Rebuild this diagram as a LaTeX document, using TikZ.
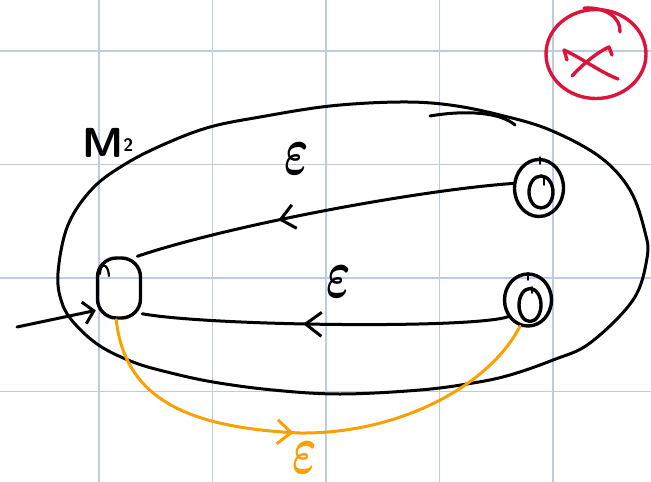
\RequirePackage{fix-cm}
\documentclass[tikz,border=0pt]{standalone}
\usepackage{tikz}
\usetikzlibrary{arrows.meta, positioning, shapes.geometric, decorations.markings}

\definecolor{gridblue}{RGB}{188,204,228}
\definecolor{inkred}{RGB}{220,20,60}
\definecolor{inkorange}{RGB}{250,160,0}
\newcommand{\heps}{\scalebox{0.85}[1.3]{\boldmath$\varepsilon$}}

\begin{document}
\begin{tikzpicture}[x=1pt, y=-1pt,
    ink/.style={line width=3pt, line cap=round, line join=round},
    gridline/.style={draw=gridblue, line width=1.2pt},
    startbox/.style={draw, ink, rectangle, rounded corners=19pt, minimum width=43pt, minimum height=60pt, inner sep=0pt, line width=3.4pt},
    ring/.style={draw, ink, ellipse, inner sep=0pt, line width=3.4pt},
    lbl/.style={font=\fontsize{54}{54}\selectfont, inner sep=0pt},
    midarr/.style 2 args={postaction={decorate}, decoration={markings, mark=at position #1 with {\arrow{Straight Barb[length=#2, width=24pt, line width=3pt]}}}},
]
    \fill[white] (0,0) rectangle (651,482);
    \useasboundingbox (0,0) rectangle (651,482);

    % grid paper
    \foreach \gx in {99,212.5,326,439.5,553}
        \draw[gridline] (\gx,0) -- (\gx,482);
    \foreach \gy in {51,164.5,278,391.5}
        \draw[gridline] (0,\gy) -- (651,\gy);

    % machine outline
    \draw[ink] plot[smooth cycle, tension=0.6] coordinates {(58,273) (62,303) (75,324) (100,346) (133,362) (167,372) (213,382) (273,390) (340,394) (420,390) (473,383) (510,375) (553,360) (590,343) (633,300) (647,258) (645,232) (630,190) (600,157) (550,130) (500,115) (450,105) (400,102) (330,106) (260,117) (210,127) (167,143) (127,163) (93,188) (68,225)};
    \draw[ink] (430,116) .. controls (465,110) and (500,112) .. (515,125);

    \node[font=\sffamily\bfseries\fontsize{42}{42}\selectfont, inner sep=0pt, anchor=base west] (mname) at (82,157) {M\raisebox{6pt}{\fontsize{18}{18}\selectfont 2}};

    % states
    \node[startbox] (start) at (119,288) {};
    \node[ring, minimum width=49pt, minimum height=57pt] (f1) at (539,188) {};
    \node[ring, minimum width=24pt, minimum height=32pt] (f1in) at (541,192) {};
    \node[ring, minimum width=47pt, minimum height=52pt] (f2) at (528,300) {};
    \node[ring, minimum width=22pt, minimum height=33pt] (f2in) at (530,305) {};
    \draw[ink, line width=2.2pt] (100,274) .. controls (100,263) and (108,262) .. (109,276);
    \draw[ink, line width=1.8pt] (540,157) -- (540,164);
    \draw[ink, line width=1.8pt] (544,177) -- (544,185);
    \draw[ink, line width=1.8pt] (528,273) -- (528,280);
    \draw[ink, line width=1.8pt] (532,287) -- (532,293);

    % transitions
    \coordinate (in) at (17,327);
    \draw[ink, -{Straight Barb[length=10pt, width=22pt, line width=3pt]}] (in) -- (start.224);
    \draw[ink, midarr={0.62}{14pt}] (f1.170) .. controls (420,190) and (230,225) .. (start.60);
    \draw[ink, midarr={0.56}{16pt}] (f2.220) .. controls (470,329) and (210,326) .. (start.-48);
    \draw[ink, inkorange, midarr={0.47}{14pt}] (start.265) .. controls (125,400) and (190,428) .. (300,433) .. controls (400,434) and (490,385) .. (f2.253);

    \node[lbl] (eps1) at (297,159) {\heps};
    \node[lbl] (eps2) at (339,282) {\heps};
    \node[lbl, text=inkorange] (eps3) at (305,458) {\heps};

    % crossed out
    \node[ring, inkred, minimum width=100pt, minimum height=89pt] (wrong) at (596,54) {};
    \draw[ink, inkred, line width=3.4pt] (584,8) .. controls (605,7) and (621,17) .. (620,32);
    \draw[ink, inkred, line width=3.4pt] (567,60) -- (564,50) .. controls (585,60) and (600,72) .. (618,79);
    \draw[ink, inkred, line width=3.4pt] (572,76) .. controls (585,62) and (598,52) .. (609,47) -- (612,55);
\end{tikzpicture}
\end{document}
